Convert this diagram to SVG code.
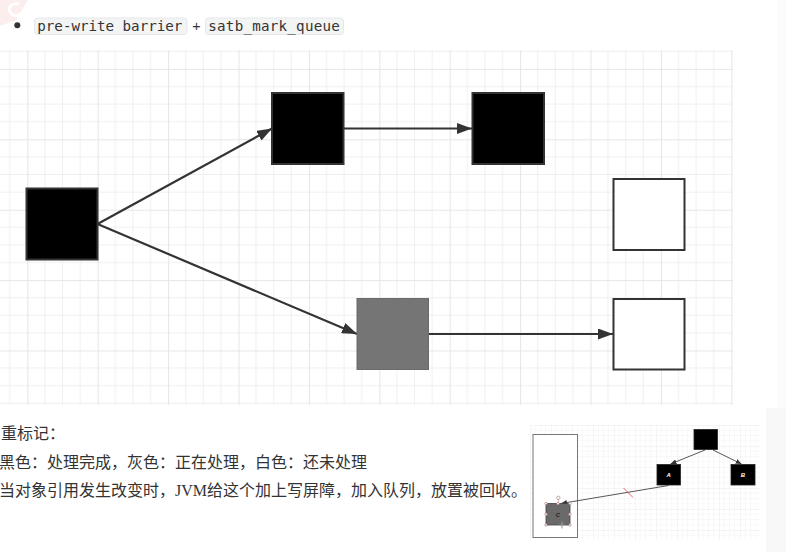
<svg xmlns="http://www.w3.org/2000/svg" width="786" height="552" viewBox="0 0 786 552">
  <defs>
    <pattern id="grid" x="27.3" y="68.9" width="70.4" height="70.4" patternUnits="userSpaceOnUse">
      <path d="M17.6,0V70.4M35.2,0V70.4M52.8,0V70.4M0,17.6H70.4M0,35.2H70.4M0,52.8H70.4" stroke="#f0f0f0" stroke-width="1" fill="none"/>
      <path d="M0.5,0V70.4M0,0.5H70.4" stroke="#e6e6e6" stroke-width="1.2" fill="none"/>
    </pattern>
    <pattern id="tgrid" x="530" y="425" width="21" height="21" patternUnits="userSpaceOnUse">
      <path d="M5.25,0V21M10.5,0V21M15.75,0V21M0,5.25H21M0,10.5H21M0,15.75H21" stroke="#f3f3f3" stroke-width="0.6" fill="none"/>
      <path d="M0.3,0V21M0,0.3H21" stroke="#ebebeb" stroke-width="0.6" fill="none"/>
    </pattern>
    <marker id="arr" markerUnits="userSpaceOnUse" markerWidth="15" markerHeight="11" refX="15" refY="5.5" orient="auto">
      <path d="M0,0 L15,5.5 L0,11 z" fill="#333"/>
    </marker>
    <marker id="tarr" markerUnits="userSpaceOnUse" markerWidth="6" markerHeight="5" refX="6" refY="2.5" orient="auto">
      <path d="M0,0 L6,2.5 L0,5 z" fill="#333"/>
    </marker>
  </defs>
  <style>
    .code { font-family: "DejaVu Sans Mono", "Liberation Mono", monospace; font-size: 14.2px; fill: #333; }
    .codebg { fill: #f3f4f4; stroke: #e5e7e9; stroke-width: 1; }
    .cn { font-family: "Liberation Serif", "Noto Sans CJK SC", serif; font-size: 16px; fill: #333; }
    .blk { fill: #000; stroke: #333; stroke-width: 2; }
    .wht { fill: #fff; stroke: #333; stroke-width: 2; }
    .gry { fill: #757575; stroke: #6a6a6a; stroke-width: 1; }
    .edge { stroke: #333; stroke-width: 2.2; fill: none; marker-end: url(#arr); }
    .tedge { stroke: #444; stroke-width: 0.9; fill: none; marker-end: url(#tarr); }
    .tblk { fill: #000; stroke: #222; stroke-width: 0.8; }
    .tlbl { font-family: "Liberation Sans", Arial, sans-serif; font-size: 6px; font-style: italic; font-weight: bold; text-anchor: middle; }
    .hdl { fill: #fff; stroke: #b08080; stroke-width: 0.7; }
  </style>

  <rect x="0" y="0" width="786" height="552" fill="#ffffff"/>
  <rect x="777" y="0" width="9" height="552" fill="#fbfbfb"/>
  <rect x="766" y="408" width="20" height="144" fill="#f8f8f8"/>

  <g id="logo">
    <path d="M0,0 H28 L16,20 L0,26 Z" fill="#fdeeee"/>
    <path d="M19,4 A7,6 0 1 0 21,14" fill="none" stroke="#ffffff" stroke-width="3"/>
  </g>

  <g id="header">
    <circle cx="17.3" cy="25.3" r="3" fill="#333"/>
    <rect class="codebg" x="34.5" y="18" width="152.5" height="16.5" rx="3"/>
    <text class="code" x="37.3" y="31" textLength="145" lengthAdjust="spacing">pre-write barrier</text>
    <text x="196.5" y="31" font-family="Liberation Sans, Arial, sans-serif" font-size="14.4" fill="#333" text-anchor="middle">+</text>
    <rect class="codebg" x="205.5" y="18" width="138" height="16.5" rx="3"/>
    <text class="code" x="208.3" y="31" textLength="131.5" lengthAdjust="spacing">satb_mark_queue</text>
  </g>

  <rect id="canvas-grid" x="0" y="50" width="733" height="355" fill="url(#grid)"/>

  <g id="connectors">
    <line class="edge" x1="97.5" y1="224" x2="272" y2="128.5"/>
    <line class="edge" x1="343.5" y1="128.5" x2="472" y2="128.5"/>
    <line class="edge" x1="97.5" y1="224" x2="357" y2="334"/>
    <line class="edge" x1="429" y1="334" x2="613" y2="334"/>
  </g>

  <g id="node-root"><rect class="blk" x="26.5" y="188.5" width="71" height="71"/></g>
  <g id="node-mid"><rect class="blk" x="272" y="93" width="71.5" height="71"/></g>
  <g id="node-right"><rect class="blk" x="472.5" y="93" width="71.5" height="71"/></g>
  <g id="node-white1"><rect class="wht" x="613.5" y="179" width="71" height="71"/></g>
  <g id="node-gray"><rect class="gry" x="357" y="298.5" width="71.5" height="71"/></g>
  <g id="node-white2"><rect class="wht" x="613.5" y="299" width="71" height="70.5"/></g>

  <g id="notes">
    <text class="cn" x="1" y="439">重标记：</text>
    <text class="cn" x="-1" y="468">黑色：处理完成，灰色：正在处理，白色：还未处理</text>
    <text class="cn" x="-1" y="496">当对象引用发生改变时，JVM给这个加上写屏障，加入队列，放置被回收。</text>
  </g>

  <g id="thumbnail">
    <rect x="530" y="425" width="230" height="115" fill="url(#tgrid)"/>
    <rect x="533" y="434.5" width="44.5" height="103" fill="#fff" stroke="#777" stroke-width="1"/>
    <g id="thumb-edges">
      <line class="tedge" x1="705" y1="450" x2="670.5" y2="464"/>
      <line class="tedge" x1="713" y1="450" x2="741.5" y2="464"/>
      <line class="tedge" x1="668.5" y1="485.5" x2="561" y2="503.5"/>
      <line x1="623.5" y1="488" x2="633" y2="497.5" stroke="#e04040" stroke-width="0.8"/>
    </g>
    <g id="thumb-top"><rect class="tblk" x="694" y="429.5" width="23.5" height="20"/></g>
    <g id="thumb-A"><rect class="tblk" x="657" y="464.5" width="23.5" height="20.5"/><text class="tlbl" x="668.7" y="477" fill="#fff">A</text></g>
    <g id="thumb-B"><rect class="tblk" x="731" y="464.5" width="24" height="20.5"/><text class="tlbl" x="743" y="477" fill="#fff">B</text></g>
    <g id="thumb-C">
      <rect x="546" y="503.5" width="24" height="21.5" fill="#6a6a6a" stroke="#444" stroke-width="0.8"/>
      <text class="tlbl" x="558" y="516.5" fill="#222">C</text>
      <line x1="558.3" y1="499.5" x2="558.3" y2="503.5" stroke="#b08080" stroke-width="0.6"/>
      <circle class="hdl" cx="558.3" cy="497.8" r="1.7"/>
      <circle class="hdl" cx="546" cy="503.5" r="1.2"/>
      <circle class="hdl" cx="558" cy="503.5" r="1.2"/>
      <circle class="hdl" cx="570" cy="503.5" r="1.2"/>
      <circle class="hdl" cx="546" cy="514.2" r="1.2"/>
      <circle class="hdl" cx="570" cy="514.2" r="1.2"/>
      <circle class="hdl" cx="546" cy="525" r="1.2"/>
      <circle class="hdl" cx="570" cy="525" r="1.2"/>
      <path d="M562,521.5V528.5M558.5,525H565.5" stroke="#999" stroke-width="1"/>
    </g>
  </g>
</svg>
